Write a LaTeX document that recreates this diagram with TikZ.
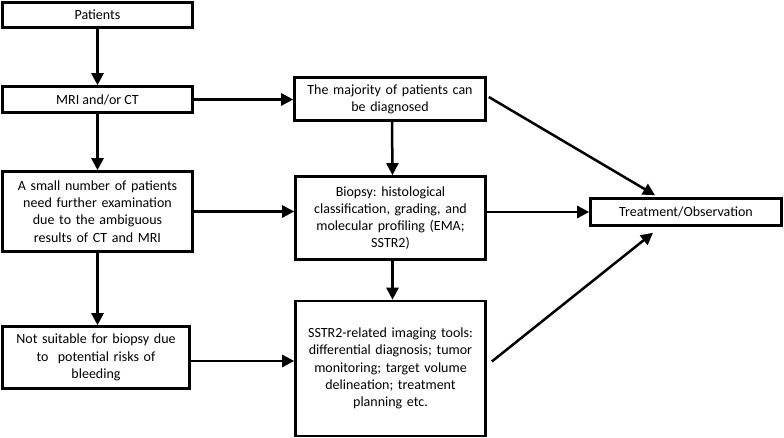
\documentclass[tikz,border=0pt]{standalone}
\usepackage{fontspec}
\setmainfont{Carlito}
\usetikzlibrary{arrows.meta}
\frenchspacing
\begin{document}
\begin{tikzpicture}[x=1pt,y=-1pt,
  box/.style={draw, line width=2.6pt, fill=white, align=center, inner sep=2pt,
    font=\fontsize{14}{17.2}\selectfont},
  conn/.style={line width=2.5pt, -{Triangle[length=12pt,width=12pt]}}]
\useasboundingbox[fill=white] (0,0) rectangle (784,438);
\node[box, minimum width=190pt, minimum height=25pt] (pat) at (97.5,15) {Patients};
\node[box, minimum width=190pt, minimum height=26pt] (mri) at (97.5,99.5) {MRI and/or CT};
\node[box, minimum width=190pt, minimum height=80pt, text width=184pt] (small) at (97.5,211.5) {A small number of patients\\need further examination\\due to the ambiguous\\results of CT and MRI};
\node[box, minimum width=187pt, minimum height=62pt, text width=182pt] (ns) at (96,357.5) {Not suitable for biopsy due\\to\ \ potential risks of\\bleeding};
\node[box, minimum width=191pt, minimum height=43pt, text width=186pt] (maj) at (390,99) {The majority of patients can\\be diagnosed};
\node[box, minimum width=190pt, minimum height=83pt, text width=186pt] (bio) at (390.5,218) {Biopsy: histological\\classification, grading, and\\molecular profiling (EMA;\\SSTR2)};
\node[box, minimum width=190pt, minimum height=135pt, text width=186pt] (sst) at (390.5,368.5) {SSTR2-related imaging tools:\\differential diagnosis; tumor\\monitoring; target volume\\delineation; treatment\\planning etc.};
\node[box, minimum width=191pt, minimum height=27pt] (tre) at (686,212) {Treatment/Observation};
\draw[conn] (pat.south) -- (mri.north);
\draw[conn] (mri.south) -- (small.north);
\draw[conn] (small.south) -- (ns.north -| small.south);
\draw[conn] (mri.east) -- (mri.east -| maj.west);
\draw[conn] (small.east) -- (small.east -| bio.west);
\draw[conn] ([yshift=-3.5pt]ns.east) -- ([yshift=-3.5pt]ns.east -| sst.west);
\draw[conn] ([xshift=2pt]maj.south) -- ([xshift=2pt]bio.north);
\draw[conn] ([xshift=2pt]bio.south) -- ([xshift=2pt]sst.north);
\draw[conn] (tre.west -| bio.east) -- (tre.west);
\draw[conn] ([xshift=2pt,yshift=2pt]maj.east) -- ([xshift=-31pt,yshift=2pt]tre.north);
\draw[conn] ([xshift=5pt,yshift=7pt]sst.east) -- ([xshift=-33pt,yshift=-6pt]tre.south);
\end{tikzpicture}
\end{document}
